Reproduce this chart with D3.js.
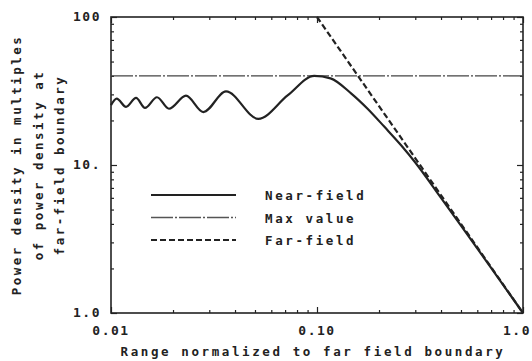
<!DOCTYPE html>
<html>
<head>
<meta charset="utf-8">
<script src="https://cdn.jsdelivr.net/npm/d3@7"></script>
<style>
    body { margin: 0; background: #fff; }
    text { font-family: 'DejaVu Sans Mono', monospace; font-weight: bold; fill: #222; }
</style>
</head>
<body>
<svg id="chart" width="532" height="361"></svg>
<script>
// range (normalized) and power density
const nearX = [0.01, 0.01066, 0.01183, 0.01323, 0.01462, 0.01672, 0.01912, 0.02312, 0.02806,
    0.03616, 0.05188, 0.072, 0.097, 0.1163, 0.1463, 0.176, 0.2125, 0.256, 0.3, 0.4, 0.5, 0.7, 1.0];
const nearY = [25.4, 28.1, 24.7, 28.4, 24.3, 28.7, 24.0, 29.4, 22.8,
    31.4, 20.5, 29.5, 40, 38.5, 30.5, 24, 18.1, 13.6, 10.4, 6.0, 3.9, 2.02, 1.0];
const farX = [0.1, 1.0];
const farY = [100, 1.0];
const maxValue = 40;

const xTickValues = [0.01, 0.1, 1];
const xTickLabels = ['0.01', '0.10', '1.0'];
const yTickValues = [1, 10, 100];
const yTickLabels = ['1.0', '10.', '100'];

const legendLabels = ['Near-field', 'Max value', 'Far-field'];

const INK = '#222';
const LEFT = 111, RIGHT = 523, TOP = 17, BOTTOM = 313;

const svg = d3.select('#chart');

const x = d3.scaleLog().domain([0.01, 1]).range([LEFT, RIGHT]);
const y = d3.scaleLog().domain([1, 100]).range([BOTTOM, TOP]);

const isMajor = (v) => Math.abs(Math.log10(v) - Math.round(Math.log10(v))) < 1e-9;

// inner ticks on all four sides
function drawTicks(axisFn, scale, transform) {
    let g = svg.append('g').attr('transform', transform);
    g.call(axisFn(scale).tickValues(scale.ticks()).tickFormat('').tickSizeOuter(0)
        .tickSizeInner(-3));
    g.selectAll('.tick line')
        .attr('stroke', INK)
        .attr('stroke-width', 1.2)
        .each(function (d) {
            if (isMajor(d)) {
                let el = d3.select(this);
                if (el.attr('y2') !== null) el.attr('y2', +el.attr('y2') * 2);
                if (el.attr('x2') !== null) el.attr('x2', +el.attr('x2') * 2);
            }
        });
    g.select('.domain').remove();
}
drawTicks(d3.axisBottom, x, `translate(0,${BOTTOM})`);
drawTicks(d3.axisTop, x, `translate(0,${TOP})`);
drawTicks(d3.axisLeft, y, `translate(${LEFT},0)`);
drawTicks(d3.axisRight, y, `translate(${RIGHT},0)`);

svg.append('rect')
    .attr('x', LEFT).attr('y', TOP)
    .attr('width', RIGHT - LEFT).attr('height', BOTTOM - TOP)
    .attr('fill', 'none')
    .attr('stroke', INK)
    .attr('stroke-width', 1.6);

// tick labels (the last one sits against the right edge)
svg.selectAll('.xlabel')
    .data(xTickValues)
    .enter().append('text')
    .attr('class', 'xlabel')
    .attr('x', (d, i) => i == xTickValues.length - 1 ? 531 : x(d))
    .attr('y', BOTTOM + 22)
    .attr('text-anchor', (d, i) => i == xTickValues.length - 1 ? 'end' : 'middle')
    .style('font-size', '13px')
    .style('letter-spacing', '1.5px')
    .text((d, i) => xTickLabels[i]);

svg.selectAll('.ylabel')
    .data(yTickValues)
    .enter().append('text')
    .attr('class', 'ylabel')
    .attr('x', 101)
    .attr('y', (d) => y(d) + 4)
    .attr('text-anchor', 'end')
    .style('font-size', '13px')
    .style('letter-spacing', '1.5px')
    .text((d, i) => yTickLabels[i]);

// axis titles
svg.append('text')
    .attr('x', (LEFT + RIGHT) / 2 - 4)
    .attr('y', 356)
    .attr('text-anchor', 'middle')
    .style('font-size', '12.5px')
    .style('letter-spacing', '2.6px')
    .text('Range normalized to far field boundary');

const yTitle = ['Power density in multiples', 'of power density at', 'far-field boundary'];
svg.selectAll('.ytitle')
    .data(yTitle)
    .enter().append('text')
    .attr('class', 'ytitle')
    .attr('transform', (d, i) => `translate(${21 + i * 21.5},165) rotate(-90)`)
    .attr('text-anchor', 'middle')
    .style('font-size', '12.5px')
    .style('letter-spacing', '2.5px')
    .text((d) => d);

// series
const line = d3.line()
    .x((d) => x(d[0]))
    .y((d) => y(d[1]))
    .curve(d3.curveMonotoneX);

const MAX_DASH = '22,2,2,2';
const FAR_DASH = '6,3';

svg.append('line')
    .attr('x1', LEFT).attr('x2', RIGHT)
    .attr('y1', y(maxValue)).attr('y2', y(maxValue))
    .attr('stroke', '#444')
    .attr('stroke-width', 1.3)
    .attr('stroke-dasharray', MAX_DASH);

svg.append('path')
    .datum(farX.map((v, i) => [v, farY[i]]))
    .attr('d', line)
    .attr('fill', 'none')
    .attr('stroke', INK)
    .attr('stroke-width', 2.2)
    .attr('stroke-dasharray', FAR_DASH);

svg.append('path')
    .datum(nearX.map((v, i) => [v, nearY[i]]))
    .attr('d', line)
    .attr('fill', 'none')
    .attr('stroke', INK)
    .attr('stroke-width', 2.2);

// legend
const legendStyles = [
    { dash: null, width: 2.2, color: INK },
    { dash: MAX_DASH, width: 1.3, color: '#555' },
    { dash: FAR_DASH, width: 2.2, color: INK }
];
const legend = svg.append('g');
legendLabels.forEach((label, i) => {
    let ly = 195 + i * 22.5;
    legend.append('line')
        .attr('x1', 151).attr('x2', 236)
        .attr('y1', ly).attr('y2', ly)
        .attr('stroke', legendStyles[i].color)
        .attr('stroke-width', legendStyles[i].width)
        .attr('stroke-dasharray', legendStyles[i].dash);
    legend.append('text')
        .attr('x', 265)
        .attr('y', ly + 5)
        .style('font-size', '12.5px')
        .style('letter-spacing', '2.6px')
        .text(label);
});
</script>
</body>
</html>
